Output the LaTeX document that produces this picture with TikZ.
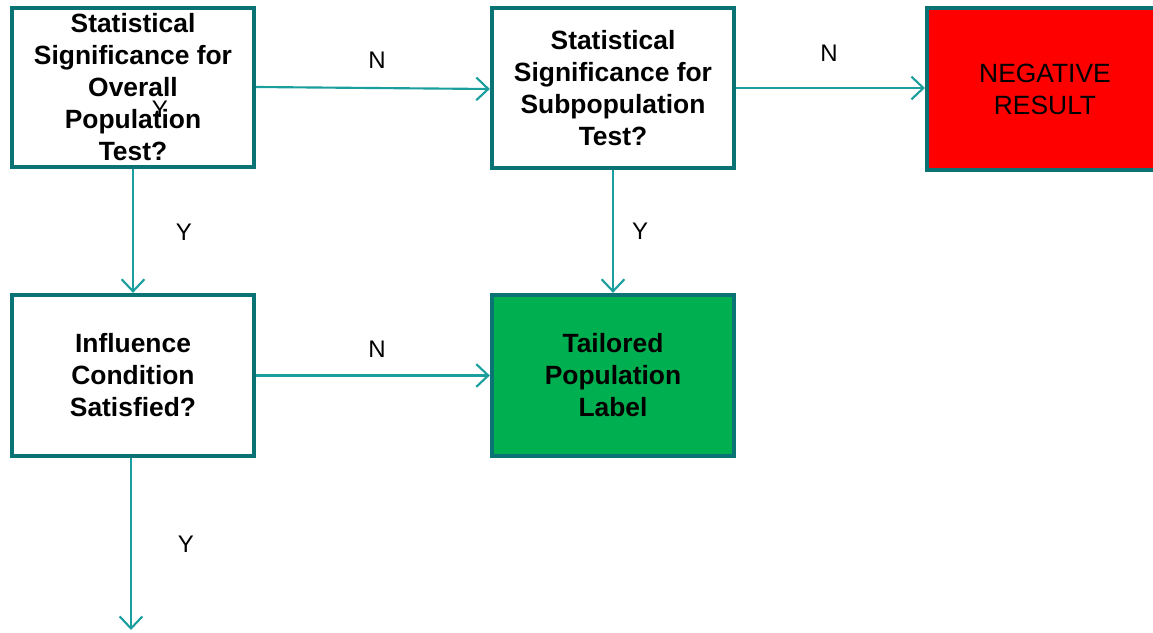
\documentclass[tikz,border=0pt]{standalone}
\usepackage{fontspec}
\setmainfont{Liberation Sans}
\usetikzlibrary{arrows.meta}
\definecolor{boxline}{HTML}{0A7373}
\definecolor{arrowc}{HTML}{1A9E9E}
\definecolor{negred}{HTML}{FF0000}
\definecolor{posgreen}{HTML}{00B050}
\begin{document}
\begin{tikzpicture}[x=0.75pt,y=-0.75pt,
  flowbox/.style={draw=boxline,line width=3.2pt,align=center,font=\fontsize{19.8}{24}\selectfont\bfseries,inner sep=0pt},
  conn/.style={draw=arrowc,line width=1.6pt,-{Straight Barb[length=9pt,width=17pt,line width=1.6pt]}},
  lbl/.style={font=\fontsize{18}{20}\selectfont,inner sep=0pt}]
\useasboundingbox (0,0) rectangle (1153,632);
\node[flowbox,minimum width=181.5pt,minimum height=119pt] (A) at (133,87.5) {Statistical\\Significance for\\Overall\\Population\\Test?};
\node[flowbox,minimum width=181.5pt,minimum height=120pt] (B) at (613,88) {Statistical\\Significance for\\Subpopulation\\Test?};
\node[flowbox,fill=negred,minimum width=180pt,minimum height=121.5pt,anchor=west] (C) at (925,89) {};
\node[font=\fontsize{19.8}{24}\selectfont,align=center] (Ct) at (1045,89) {NEGATIVE\\RESULT};
\node[flowbox,minimum width=181.5pt,minimum height=120.75pt] (D) at (133,375.5) {Influence\\Condition\\Satisfied?};
\node[flowbox,fill=posgreen,minimum width=181.5pt,minimum height=120.75pt] (E) at (613,375.5) {Tailored\\Population\\Label};
\coordinate (Dout) at (131,630);
\draw[conn] (A.east |- 0,87) -- (B.west |- 0,89);
\draw[conn] (B.east |- 0,88) -- (C.west |- 0,88);
\draw[conn] (A.south) -- (D.north);
\draw[conn] (B.south) -- (E.north);
\draw[conn] (D.east) -- (E.west);
\draw[conn] (D.south -| Dout) -- (Dout);
\node[lbl] (n1) at (377,60) {N};
\node[lbl] (n2) at (829,53) {N};
\node[lbl] (y1) at (184,232) {Y};
\node[lbl] (y2) at (640,231) {Y};
\node[lbl] (n3) at (377,349) {N};
\node[lbl] (y3) at (186,544) {Y};
\node[lbl] (y0) at (160,109) {Y};
\end{tikzpicture}
\end{document}
